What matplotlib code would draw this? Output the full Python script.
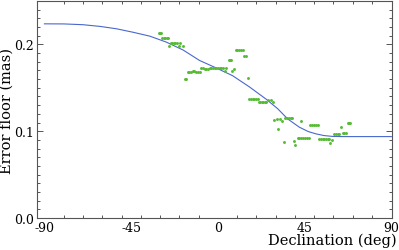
import numpy as np
import matplotlib.pyplot as plt
from matplotlib.ticker import FixedLocator, MultipleLocator

plt.rcParams['font.family'] = ['DejaVu Serif']

# model curve
curve_dec = [-90, -80, -70, -61, -52.6, -44, -35.3, -26.7, -18, -9.5, -1, 7.6,
             16.4, 25, 31, 36.2, 42.3, 47, 51, 55, 59.5, 65, 90]
curve_err = [0.2237, 0.2236, 0.2227, 0.2207, 0.218, 0.214, 0.2095, 0.2026, 0.1935,
             0.1815, 0.173, 0.164, 0.151, 0.137, 0.126, 0.1142, 0.1046, 0.0995,
             0.0969, 0.095, 0.094, 0.0938, 0.0938]

# measured points
pt_dec = [-30.4, -29.9, -29.3,
          -28.8, -28.0, -27.2, -26.4, -25.9,
          -25.5,
          -24.5, -23.8, -23.0, -22.2, -21.0, -19.8,
          -20.3, -18.2,
          -17.2, -16.3,
          -15.7, -14.8, -14.0, -13.0, -12.2, -11.3, -10.4, -9.5,
          -8.6, -7.8, -6.9, -6.0, -5.2, -4.3, -3.4, -2.6, -1.7, -0.8, 0.0, 0.9, 1.7, 2.6,
          3.5, 4.3,
          5.7, 6.3, 6.9,
          7.5, 8.6,
          9.2, 10.1, 11.0, 12.0, 12.9,
          13.4, 14.7,
          15.5,
          16.4, 17.3, 18.1, 19.0, 19.8, 20.7,
          21.2, 22.0, 22.8, 23.6, 24.4, 25.0,
          25.8, 27.4, 28.5,
          29.3, 30.5, 32.3, 33.5,
          31.4, 34.5,
          35.0, 35.9, 36.8, 37.7, 38.6,
          39.3, 40.2,
          41.4, 42.3, 43.3, 44.2, 45.2, 46.2, 47.4,
          43.1,
          47.8, 48.8, 49.8, 50.8, 51.7,
          52.5, 53.4, 54.3, 55.2, 56.1, 57.0, 57.8,
          58.1, 59.0,
          60.4, 61.3, 62.1, 63.0,
          63.8,
          65.0, 65.7, 66.4,
          67.3, 68.0, 68.5]
pt_err = [0.2128, 0.2128, 0.2128,
          0.2076, 0.2076, 0.2076, 0.2076, 0.2076,
          0.1976,
          0.2012, 0.2015, 0.2015, 0.2018, 0.2018, 0.2015,
          0.1976, 0.1976,
          0.160, 0.160,
          0.1687, 0.1687, 0.1687, 0.1690, 0.1690, 0.1687, 0.1687, 0.1687,
          0.173, 0.173, 0.172, 0.172, 0.172, 0.173, 0.173, 0.173, 0.173, 0.173, 0.173, 0.173, 0.173, 0.173,
          0.169, 0.173,
          0.1822, 0.1822, 0.1822,
          0.1695, 0.172,
          0.1934, 0.1934, 0.1934, 0.1934, 0.1934,
          0.187, 0.187,
          0.161,
          0.1372, 0.1372, 0.1372, 0.1372, 0.1372, 0.1372,
          0.134, 0.134, 0.134, 0.134, 0.134, 0.134,
          0.136, 0.136, 0.134,
          0.113, 0.114, 0.114, 0.112,
          0.1026, 0.0873,
          0.115, 0.115, 0.115, 0.115, 0.115,
          0.089, 0.0845,
          0.0919, 0.0919, 0.0919, 0.0919, 0.0919, 0.0919, 0.0919,
          0.112,
          0.1077, 0.1077, 0.1077, 0.1077, 0.1077,
          0.0911, 0.0911, 0.0911, 0.0911, 0.0911, 0.0911, 0.0911,
          0.0865, 0.0903,
          0.0965, 0.0965, 0.0965, 0.0965,
          0.1046,
          0.0977, 0.0977, 0.0977,
          0.1096, 0.1096, 0.1096]

x_labels = [-90, -45, 0, 45, 90]

fig = plt.figure(figsize=(3.99, 2.51), dpi=100)
ax = fig.add_axes([0.092, 0.1275, 0.8897, 0.8645])

ax.plot(curve_dec, curve_err, color='#4a68cc', linewidth=0.8)
ax.plot(pt_dec, pt_err, linestyle='none', marker='o', markersize=2.1,
        color='#55bb33', markeredgewidth=0)

ax.set_xlim(-94, 90.2)
ax.set_ylim(0, 0.25)

ax.xaxis.set_major_locator(FixedLocator(x_labels))
ax.xaxis.set_major_formatter(plt.FuncFormatter(lambda v, p: '%d' % v))
ax.xaxis.set_minor_locator(FixedLocator(np.arange(-90, 91, 10)))
ax.yaxis.set_major_locator(MultipleLocator(0.1))
ax.yaxis.set_major_formatter(plt.FuncFormatter(lambda v, p: '%.1f' % v))
ax.yaxis.set_minor_locator(MultipleLocator(0.01))

frame_col = '#555555'
for s in ax.spines.values():
  s.set_color(frame_col)
  s.set_linewidth(0.8)
ax.tick_params(which='both', direction='in', top=True, right=True, colors=frame_col,
               labelcolor='black', labelsize=9, width=0.7)
ax.tick_params(axis='x', which='major', length=0, pad=2.5)
ax.tick_params(axis='y', which='major', length=4.5, pad=2)
ax.tick_params(which='minor', length=2.5)

ax.set_xlabel('Declination (deg)', fontsize=10.5, loc='right', labelpad=-1)
ax.xaxis.label.set_x(1.015)
ax.set_ylabel('Error floor (mas)', fontsize=10.5)
ax.yaxis.set_label_coords(-0.064, 0.5)

fig.savefig('out.png', dpi=100)
